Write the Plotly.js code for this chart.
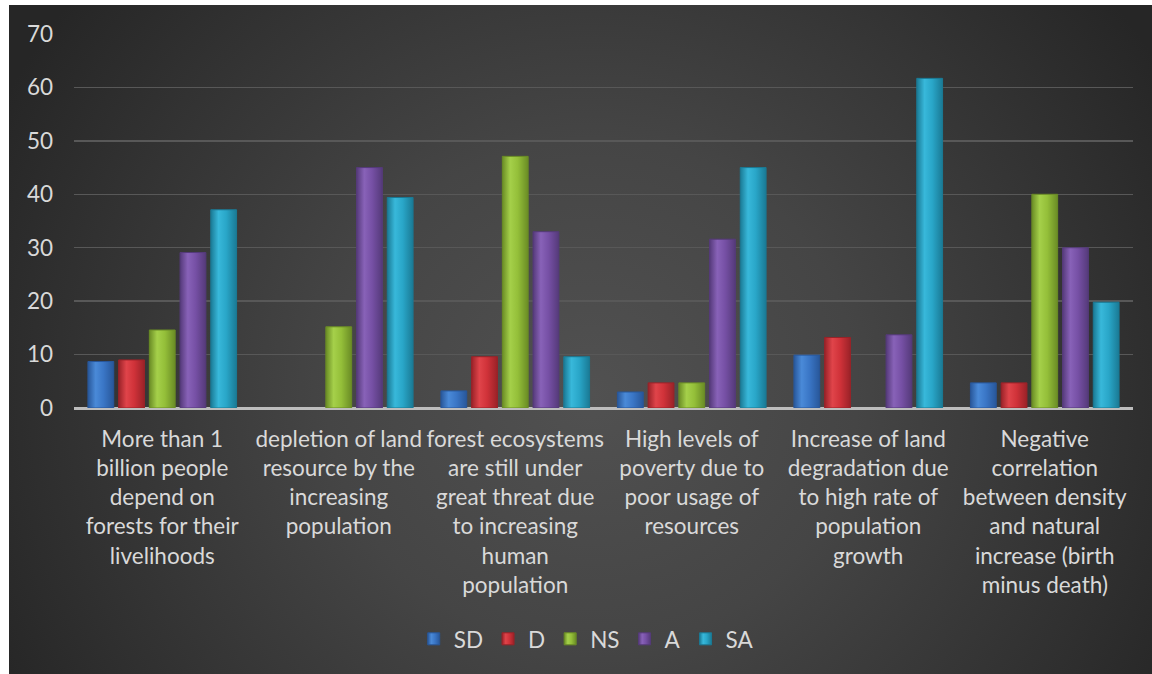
<!DOCTYPE html>
<html>
<head>
<meta charset="utf-8">
<script src="https://cdn.plot.ly/plotly-3.0.1.min.js"></script>
<style>
  html, body { margin: 0; padding: 0; background: #ffffff; }
  #chart {
    position: absolute;
    left: 9px;
    top: 5px;
    width: 1143px;
    height: 669px;
    background: radial-gradient(ellipse 58% 95% at 51% 58%, #515151 0%, #454545 40%, #333333 75%, #262626 100%);
  }
</style>
</head>
<body>
<div id="chart"></div>
<script>
// Survey statements (categories) and the wrapped labels shown under each group
const categories = [
  "More than 1 billion people depend on forests for their livelihoods",
  "depletion of land resource by the increasing population",
  "forest ecosystems are still under great threat due to increasing human population",
  "High levels of poverty due to poor usage of resources",
  "Increase of land degradation due to high rate of population growth",
  "Negative correlation between density and natural increase (birth minus death)"
];
const tickLabels = [
  "More than 1<br>billion people<br>depend on<br>forests for their<br>livelihoods",
  "depletion of land<br>resource by the<br>increasing<br>population",
  "forest ecosystems<br>are still under<br>great threat due<br>to increasing<br>human<br>population",
  "High levels of<br>poverty due to<br>poor usage of<br>resources",
  "Increase of land<br>degradation due<br>to high rate of<br>population<br>growth",
  "Negative<br>correlation<br>between density<br>and natural<br>increase (birth<br>minus death)"
];

// Response shares per statement
const seriesNames = ["SD", "D", "NS", "A", "SA"];
const sdValues = [8.7, 0, 3.2, 3.0, 9.9, 4.7];
const dValues  = [9.0, 0, 9.6, 4.7, 13.2, 4.7];
const nsValues = [14.6, 15.2, 47.1, 4.7, 0, 40.0];
const aValues  = [29.1, 45.0, 33.0, 31.6, 13.7, 30.0];
const saValues = [37.1, 39.4, 9.6, 45.0, 61.7, 19.8];
const yTicks = [0, 10, 20, 30, 40, 50, 60, 70];

const seriesValues = [sdValues, dValues, nsValues, aValues, saValues];
// base colour, highlight and shadow tone for each series
const fills  = ["#3a76c6", "#d03239", "#94bf39", "#7650a5", "#29a6c8"];
const lights = ["#4a8ad8", "#e0444a", "#a5d04a", "#8862b8", "#38b8da"];
const darks  = ["#28579a", "#9a2228", "#6a8c25", "#553a7a", "#1a7a95"];

const FONT = "Lato, 'Open Sans', sans-serif";
const TEXT = "#d9d9d9";
const FS = 22.5;

const traces = seriesNames.map((name, i) => ({
  type: "bar",
  name: name,
  x: categories,
  y: seriesValues[i],
  marker: {
    color: fills[i],
    line: { color: darks[i], width: seriesValues[i].map(v => (v === 0 ? 0 : 1)) }
  },
  hoverinfo: "x+y+name"
}));

const layout = {
  width: 1143,
  height: 669,
  paper_bgcolor: "rgba(0,0,0,0)",
  plot_bgcolor: "rgba(0,0,0,0)",
  margin: { l: 65, r: 19, t: 29, b: 266, autoexpand: false },
  barmode: "group",
  bargap: 0.13,
  bargroupgap: 0.16,
  font: { family: FONT, color: TEXT, size: FS },
  xaxis: {
    type: "category",
    tickmode: "array",
    tickvals: categories,
    ticktext: tickLabels,
    tickfont: { family: FONT, size: FS, color: TEXT },
    ticks: "",
    ticklabelstandoff: 15,
    automargin: false,
    showgrid: false,
    showline: false,
    zeroline: false,
    fixedrange: true
  },
  yaxis: {
    range: [0, 70],
    tickmode: "array",
    tickvals: yTicks,
    ticktext: yTicks.map(String),
    tickfont: { family: FONT, size: FS, color: TEXT },
    ticks: "",
    ticklabelstandoff: 20,
    automargin: false,
    showgrid: true,
    gridcolor: "#585858",
    gridwidth: 1.5,
    zeroline: true,
    zerolinecolor: "#bdbdbd",
    zerolinewidth: 3,
    showline: false,
    fixedrange: true
  },
  legend: {
    orientation: "h",
    x: 0.505,
    xanchor: "center",
    xref: "container",
    y: 0.052,
    yanchor: "middle",
    yref: "container",
    font: { family: FONT, size: FS, color: TEXT },
    itemwidth: 30,
    traceorder: "normal",
    bgcolor: "rgba(0,0,0,0)"
  },
  showlegend: true
};

// Give the bars a rounded, lit look with a horizontal gradient per series
function shadeBars(gd) {
  const svg = gd.querySelector(".main-svg");
  if (!svg) return;
  const NS = "http://www.w3.org/2000/svg";
  let defs = svg.querySelector("defs");
  if (!defs) { defs = document.createElementNS(NS, "defs"); svg.insertBefore(defs, svg.firstChild); }
  seriesNames.forEach((name, i) => {
    const g = document.createElementNS(NS, "linearGradient");
    g.setAttribute("id", "barShade" + i);
    g.setAttribute("x1", "0"); g.setAttribute("x2", "1");
    g.setAttribute("y1", "0"); g.setAttribute("y2", "0");
    [["0%", darks[i]], ["30%", lights[i]], ["60%", fills[i]], ["100%", darks[i]]].forEach(([off, col]) => {
      const s = document.createElementNS(NS, "stop");
      s.setAttribute("offset", off);
      s.setAttribute("stop-color", col);
      g.appendChild(s);
    });
    defs.appendChild(g);
  });
  gd.querySelectorAll(".barlayer .trace.bars").forEach((tr, i) => {
    tr.querySelectorAll(".point path").forEach(p => { p.style.fill = "url(#barShade" + i + ")"; });
  });
  gd.querySelectorAll(".legend .traces").forEach((tr, i) => {
    tr.querySelectorAll(".legendpoints path").forEach(p => { p.style.fill = "url(#barShade" + i + ")"; });
  });
}

Plotly.newPlot("chart", traces, layout, { displayModeBar: false, staticPlot: true })
  .then(gd => shadeBars(gd));
</script>
</body>
</html>
